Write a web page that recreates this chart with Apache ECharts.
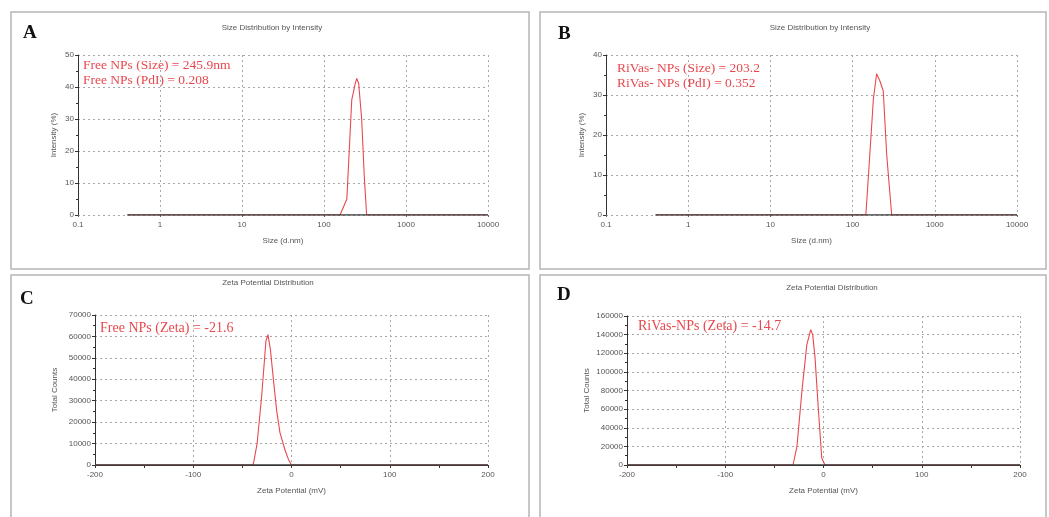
<!DOCTYPE html>
<html>
<head>
<meta charset="utf-8">
<script src="https://cdn.jsdelivr.net/npm/echarts@6/dist/echarts.min.js"></script>
<style>
html,body{margin:0;padding:0;background:#fff;}
#chart{width:1049px;height:517px;}
</style>
</head>
<body>
<div id="chart"></div>
<script>
// ---- data ----
const panelLetters = ['A', 'B', 'C', 'D'];
const panelTitles = ['Size Distribution by Intensity', 'Size Distribution by Intensity', 'Zeta Potential Distribution', 'Zeta Potential Distribution'];
const xNames = ['Size (d.nm)', 'Size (d.nm)', 'Zeta Potential (mV)', 'Zeta Potential (mV)'];
const yNames = ['Intensity (%)', 'Intensity (%)', 'Total Counts', 'Total Counts'];
const sizeTickLabels = ['0.1', '1', '10', '100', '1000', '10000'];
const zetaTickLabels = ['-200', '-100', '0', '100', '200'];
const notesA = ['Free NPs (Size) = 245.9nm', 'Free NPs (PdI) = 0.208'];
const notesB = ['RiVas- NPs (Size) = 203.2', 'RiVas- NPs (PdI) = 0.352'];
const notesC = ['Free NPs (Zeta) = -21.6'];
const notesD = ['RiVas-NPs (Zeta) = -14.7'];

// size (d.nm), intensity (%)
const sizeA = [[0.4,0],[1,0],[10,0],[100,0],[157,0],[190,5],[218,36],[240,41],[251,42.7],[265,41],[288,30],[310,12],[331,0],[400,0],[1000,0],[10000,0]];
const sizeB = [[0.4,0],[1,0],[10,0],[100,0],[145,0],[163,16],[179,29],[196,35.3],[215,33.5],[236,31],[260,15],[299,0],[400,0],[1000,0],[10000,0]];
// zeta (mV), total counts
const zetaC = [[-200,0],[-150,0],[-100,0],[-50,0],[-39,0],[-35,10000],[-30.4,32000],[-26,58000],[-24,60800],[-21.5,54000],[-18,38000],[-15,25000],[-11.7,15000],[-6.6,7000],[-3,2500],[0,0],[50,0],[100,0],[150,0],[200,0]];
const zetaD = [[-200,0],[-150,0],[-100,0],[-50,0],[-31,0],[-27,20000],[-22,79000],[-17,129000],[-13,145300],[-11,140000],[-8.6,115000],[-5.3,61000],[-1.8,7500],[1.5,0],[50,0],[100,0],[150,0],[200,0]];

// ---- layout ----
const RED = '#e8484d';
const DARK = '#3a3a3a';
const GRID_COL = '#a8a8a8';
const LBL = {color: '#555', fontSize: 8, fontFamily: 'Liberation Sans, Arial, sans-serif'};

const grids = [
  {left: 78, top: 55, width: 410, height: 160},
  {left: 606, top: 55, width: 411, height: 160},
  {left: 95, top: 315, width: 393, height: 150},
  {left: 627, top: 316, width: 393, height: 149}
];
const panels = [
  {x: 11, y: 12, w: 518, h: 257},
  {x: 540, y: 12, w: 506, h: 257},
  {x: 11, y: 275, w: 518, h: 250},
  {x: 540, y: 275, w: 506, h: 250}
];

function yAxis(i, max, interval) {
  return {
    type: 'value', gridIndex: i, min: 0, max: max, interval: interval,
    name: yNames[i], nameLocation: 'middle', nameGap: i < 2 ? 20 : 36,
    nameTextStyle: {color: '#555', fontSize: 8, fontFamily: 'Liberation Sans, Arial, sans-serif'},
    axisLine: {show: true, onZero: false, lineStyle: {color: '#333', width: 1}},
    axisTick: {show: true, length: 3, lineStyle: {color: '#333'}},
    minorTick: {show: true, splitNumber: 2, length: 2, lineStyle: {color: '#333'}},
    axisLabel: Object.assign({margin: 4, formatter: v => String(v)}, LBL),
    splitLine: {show: true, lineStyle: {color: GRID_COL, type: [2, 3], width: 1}}
  };
}
function sizeX(i) {
  return {
    type: 'log', logBase: 10, gridIndex: i, min: 0.1, max: 10000,
    name: xNames[i], nameLocation: 'middle', nameGap: 22,
    nameTextStyle: {color: '#555', fontSize: 8, fontFamily: 'Liberation Sans, Arial, sans-serif'},
    axisLine: {show: false, onZero: false},
    axisTick: {show: true, length: 2, lineStyle: {color: '#666'}},
    axisLabel: Object.assign({margin: 6, formatter: (v, idx) => sizeTickLabels[idx]}, LBL),
    splitLine: {show: true, lineStyle: {color: GRID_COL, type: [2, 3], width: 1}}
  };
}
function zetaX(i) {
  return {
    type: 'value', gridIndex: i, min: -200, max: 200, interval: 100,
    name: xNames[i], nameLocation: 'middle', nameGap: 22,
    nameTextStyle: {color: '#555', fontSize: 8, fontFamily: 'Liberation Sans, Arial, sans-serif'},
    axisLine: {show: true, onZero: false, lineStyle: {color: '#333', width: 1.2}},
    axisTick: {show: true, length: 3, lineStyle: {color: '#333'}},
    minorTick: {show: true, splitNumber: 2, length: 3, lineStyle: {color: '#333'}},
    axisLabel: Object.assign({margin: 6, formatter: (v, idx) => zetaTickLabels[idx]}, LBL),
    splitLine: {show: true, lineStyle: {color: GRID_COL, type: [2, 3], width: 1}}
  };
}

const graphics = [];
panels.forEach((p, i) => {
  graphics.push({type: 'rect', silent: true, shape: {x: p.x, y: p.y, width: p.w, height: p.h},
    style: {fill: null, stroke: '#b5b5b5', lineWidth: 1.5}});
});
const letterPos = [[23, 33], [558, 34], [20, 299], [557, 295]];
letterPos.forEach((lp, i) => {
  graphics.push({type: 'text', silent: true, x: lp[0], y: lp[1],
    style: {text: panelLetters[i], fill: '#111', font: 'bold 19px "Liberation Serif", "Times New Roman", serif', textVerticalAlign: 'middle'}});
});
const titlePos = [[272, 28], [820, 28], [268, 283], [832, 288]];
titlePos.forEach((tp, i) => {
  graphics.push({type: 'text', silent: true, x: tp[0], y: tp[1],
    style: {text: panelTitles[i], fill: '#555', font: '8px "Liberation Sans", Arial, sans-serif', textAlign: 'center', textVerticalAlign: 'middle'}});
});
function addNotes(lines, x, y0, step, size) {
  lines.forEach((t, k) => {
    graphics.push({type: 'text', silent: true, x: x, y: y0 + k * step,
      style: {text: t, fill: RED, font: size + 'px "Liberation Serif", "Times New Roman", serif', textVerticalAlign: 'middle'}});
  });
}
addNotes(notesA, 83, 65, 15, 13.5);
addNotes(notesB, 617, 68, 15, 13.5);
addNotes(notesC, 100, 328, 15, 14);
addNotes(notesD, 638, 326, 15, 14);

// zero-level baseline (first to last data point) drawn dark over the record
function baseline(idx, data) {
  return {type: 'line', xAxisIndex: idx, yAxisIndex: idx, data: [[data[0][0], 0], [data[data.length - 1][0], 0]],
    showSymbol: false, z: 4, silent: true, lineStyle: {width: 1.5, color: DARK}, itemStyle: {color: DARK}};
}
function record(idx, data) {
  return {type: 'line', xAxisIndex: idx, yAxisIndex: idx, data: data, showSymbol: false, z: 3,
    lineStyle: {width: 1.1, color: RED}, itemStyle: {color: RED}};
}

const chart = echarts.init(document.getElementById('chart'), null, {renderer: 'canvas'});
chart.setOption({
  backgroundColor: '#fff',
  animation: false,
  grid: grids,
  xAxis: [sizeX(0), sizeX(1), zetaX(2), zetaX(3)],
  yAxis: [yAxis(0, 50, 10), yAxis(1, 40, 10), yAxis(2, 70000, 10000), yAxis(3, 160000, 20000)],
  series: [
    record(0, sizeA), record(1, sizeB), record(2, zetaC), record(3, zetaD),
    baseline(0, sizeA), baseline(1, sizeB), baseline(2, zetaC), baseline(3, zetaD)
  ],
  graphic: graphics
});
</script>
</body>
</html>
